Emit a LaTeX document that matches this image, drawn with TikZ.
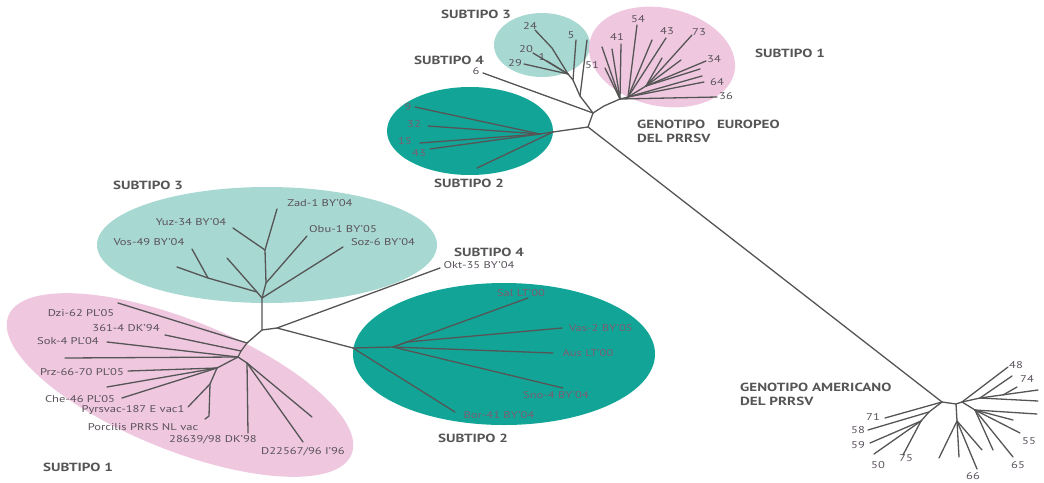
\documentclass[tikz,border=0pt]{standalone}
\usepackage{fontspec}
\setmainfont{PT Sans}[FakeStretch=1.28]
\definecolor{lteal}{HTML}{A8D8D2}
\definecolor{dteal}{HTML}{12A597}
\definecolor{lpink}{HTML}{EFC8E0}
\definecolor{linec}{HTML}{555555}
\definecolor{labc}{HTML}{5A515C}
\definecolor{labt}{HTML}{7D5C70}
\definecolor{subc}{HTML}{555555}
\tikzset{
  br/.style={draw=linec, line width=1.3pt, line cap=round, line join=round},
  lbl/.style={font=\fontsize{9.8}{11}\selectfont, text=labc, inner sep=0pt},
  lblt/.style={font=\fontsize{9.8}{11}\selectfont, text=labt, inner sep=0pt},
  sub/.style={font=\bfseries\fontsize{11.8}{13}\selectfont, text=subc, inner sep=0pt},
}
\begin{document}
\begin{tikzpicture}[x=1pt,y=-1pt]
\useasboundingbox (0,0) rectangle (1044,482);
% ---------- ellipses ----------
\fill[lteal] (542,45) ellipse [x radius=48, y radius=32];
\fill[lpink, rotate around={-12:(662,57)}] (662,57) ellipse [x radius=74, y radius=49];
\fill[dteal] (470,131) ellipse [x radius=83, y radius=44];
\fill[lteal] (267,245) ellipse [x radius=170, y radius=58];
\fill[lpink, rotate around={-22:(180,385)}] (180,385) ellipse [x radius=185, y radius=65];
\fill[dteal] (504,354) ellipse [x radius=151, y radius=71];

% ---------- European small tree ----------
\coordinate (eA) at (593,113);
\coordinate (eB) at (604,106);
\coordinate (eC) at (588,127);
\coordinate (ph) at (620,99);
\coordinate (ph2) at (628,97);
\coordinate (ph3) at (646,86);
\coordinate (t2h) at (553,132);
\coordinate (t2i) at (540,134);
\coordinate (s3a) at (580,96);
\coordinate (s3b) at (573,80);
\coordinate (s3c) at (568,74);
\coordinate (s3d) at (552,48);
\coordinate (aA) at (942,402);

\draw[br] (eA) -- (eB) -- (ph);
\draw[br] (eA) -- (eC) -- (t2h);
\draw[br] (eC) -- (aA);
\draw[br] (eA) -- (s3a) -- (s3b) -- (s3c);

% subtype 3 (top)
\node[lbl] (n24) at (530,26) {24};
\node[lbl] (n5) at (571,35) {5};
\node[lbl] (n20) at (526,49) {20};
\node[lbl] (n1) at (542,57) {1};
\node[lbl] (n29) at (515,63) {29};
\coordinate (t24) at (535,30);
\coordinate (t5) at (576,40);
\coordinate (t20) at (533,53);
\coordinate (t1) at (547,61);
\coordinate (t29) at (524,64);
\coordinate (tx1) at (587,40);
\draw[br] (t24) -- (s3d) -- (s3c);
\draw[br] (s3b) -- (t5);
\draw[br] (s3a) -- (tx1);
\draw[br] (t20) -- (s3c);
\draw[br] (t1) -- (s3c);
\draw[br] (t29) -- (s3c);

% subtype 4 (top)
\node[lbl] (n6) at (476,71) {6};
\coordinate (t6) at (483,73);
\draw[br] (t6) -- (eA);

% subtype 2 (top)
\node[lblt] (n9) at (408,107) {9};
\node[lblt] (n32) at (414,124) {32};
\node[lblt] (n15) at (405,141) {15};
\node[lblt] (n43b) at (419,153) {43};
\coordinate (t9) at (415,107);
\coordinate (t32) at (428,126);
\coordinate (t15) at (420,143);
\coordinate (t43b) at (430,149);
\coordinate (tlong) at (477,168);
\draw[br] (t2h) -- (t2i);
\foreach \t in {t9,t32,t15,t43b} \draw[br] (t2i) -- (\t);
\draw[br] (t2h) -- (tlong);

% subtype 1 (top)
\node[lbl] (n54) at (638,19) {54};
\node[lbl] (n41) at (617,37) {41};
\node[lbl] (n43) at (667,31) {43};
\node[lbl] (n73) at (699,32) {73};
\node[lbl] (n34) at (714,59) {34};
\node[lbl] (n64) at (717,82) {64};
\node[lbl] (n36) at (726,96) {36};
\node[lbl] (n51) at (592,65) {51};
\draw[br] (ph) -- (ph2) -- (ph3);
\draw[br] (ph) -- (605,68);
\draw[br] (ph) -- (602,47);
\draw[br] (ph) -- (612,49);
\draw[br] (ph) -- (621,44);
\draw[br] (ph2) -- (637,25);
\draw[br] (ph2) -- (652,40);
\draw[br] (ph2) -- (666,38);
\draw[br] (ph3) -- (662,58);
\draw[br] (ph3) -- (692,35);
\draw[br] (ph3) -- (681,60);
\draw[br] (ph3) -- (706,61);
\draw[br] (ph3) -- (700,69);
\draw[br] (ph2) -- (702,76);
\draw[br] (ph2) -- (704,82);
\draw[br] (ph) -- (717,97);

% labels top
\node[sub] (s3top) at (476,14) {SUBTIPO 3};
\node[sub] (s4top) at (449,60) {SUBTIPO 4};
\node[sub] (s2top) at (469,183) {SUBTIPO 2};
\node[sub] (s1top) at (790,53) {SUBTIPO 1};
\node[sub, anchor=north west, align=left] (geu) at (637,120) {GENOTIPO\quad EUROPEO\\[1pt]DEL PRRSV};

% ---------- American ----------
\coordinate (aB) at (956,404);
\coordinate (aC) at (962,402);
\coordinate (aL) at (929,412);
\coordinate (aL2) at (921,421);
\coordinate (aD) at (957,421);
\coordinate (aE) at (980,398);
\coordinate (aG) at (975,410);
\draw[br] (aA) -- (aB) -- (aC);
\draw[br] (aA) -- (885,418);
\draw[br] (aA) -- (aL) -- (aL2);
\draw[br] (aL) -- (868,430);
\draw[br] (aL2) -- (870,443);
\draw[br] (aL2) -- (874,454);
\draw[br] (aL2) -- (903,455);
\draw[br] (aB) -- (aD);
\draw[br] (aD) -- (939,458);
\draw[br] (aD) -- (959,457);
\draw[br] (aD) -- (977,469);
\draw[br] (aD) -- (982,450);
\draw[br] (aC) -- (1008,367);
\draw[br] (aC) -- (aE);
\draw[br] (aE) -- (1012,376);
\draw[br] (1003,395) -- (1017,387);
\draw[br] (aE) -- (1038,390);
\draw[br] (aE) -- (1038,401);
\draw[br] (aC) -- (aG);
\draw[br] (aG) -- (1037,414);
\draw[br] (aG) -- (1013,420);
\draw[br] (aG) -- (1020,433);
\draw[br] (aG) -- (993,450);
\draw[br] (aG) -- (1013,457);
\node[lbl] (a48) at (1016,365) {48};
\node[lbl] (a74) at (1027,379) {74};
\node[lbl] (a55) at (1029,441) {55};
\node[lbl] (a65) at (1018,465) {65};
\node[lbl] (a66) at (973,476) {66};
\node[lbl] (a71) at (873,417) {71};
\node[lbl] (a58) at (858,430) {58};
\node[lbl] (a59) at (858,445) {59};
\node[lbl] (a50) at (878,465) {50};
\node[lbl] (a75) at (906,458) {75};
\node[sub, anchor=north west, align=left] (gam) at (740,383) {GENOTIPO AMERICANO\\[1pt]DEL PRRSV};

% ---------- Left big tree ----------
\coordinate (z3s) at (262,298);
\coordinate (z0) at (262,330);
\coordinate (z3a) at (266,283);
\coordinate (z3b) at (265,250);
\coordinate (z3c) at (257,292);
\coordinate (z3d) at (208,278);
\coordinate (zk) at (277,328);
\coordinate (h2) at (353,348);
\coordinate (h2a) at (393,347);
\coordinate (h2b) at (407,342);
\coordinate (p1) at (247,343);
\coordinate (p2) at (241,351);
\coordinate (p3) at (238,357);
\coordinate (p4) at (217,368);
\coordinate (p5) at (210,384);
\coordinate (p6) at (247,363);

% subtype 3
\draw[br] (z0) -- (z3s) -- (z3a) -- (z3b) -- (277,209);
\draw[br] (z3b) -- (233,228);
\draw[br] (z3a) -- (307,236);
\draw[br] (z3s) -- (343,247);
\draw[br] (z3s) -- (z3c) -- (z3d) -- (192,249);
\draw[br] (z3d) -- (177,267);
\draw[br] (z3c) -- (227,258);
\node[lbl] (lzad) at (320,203) {Zad-1 BY'04};
\node[lbl] (lyuz) at (191,222) {Yuz-34 BY'04};
\node[lbl] (lobu) at (343,229) {Obu-1 BY'05};
\node[lbl] (lvos) at (149,242) {Vos-49 BY'04};
\node[lbl] (lsoz) at (383,242) {Soz-6 BY'04};

% subtype 4 + 2
\draw[br] (z0) -- (zk) -- (440,268);
\draw[br] (zk) -- (h2);
\draw[br] (h2) -- (455,412);
\draw[br] (h2) -- (h2a);
\draw[br] (h2a) -- (528,298);
\draw[br] (h2a) -- (553,353);
\draw[br] (h2a) -- (563,388);
\draw[br] (h2a) -- (h2b) -- (562,328);
\node[lbl] (lokt) at (479,265) {Okt-35 BY'04};
\node[lblt] (lsal) at (521,293) {Sal LT'00};
\node[lblt] (lvas) at (601,328) {Vas-2 BY'05};
\node[lblt] (laus) at (588,353) {Aus LT'00};
\node[lblt] (lsno) at (556,395) {Sno-4 BY'04};
\node[lblt] (lbor) at (499,415) {Bor-41 BY'04};

% subtype 1
\draw[br] (z0) -- (p1) -- (118,303);
\draw[br] (p1) -- (p2) -- (165,335);
\draw[br] (p2) -- (p3) -- (107,342);
\draw[br] (p3) -- (65,358);
\draw[br] (p3) -- (p4) -- (128,371);
\draw[br] (p4) -- (107,387);
\draw[br] (p4) -- (122,398);
\draw[br] (p4) -- (p5) -- (188,407);
\draw[br] (p5) -- (209,416) -- (205,419);
\draw[br] (p3) -- (p6) -- (248,433);
\draw[br] (p6) -- (303,442);
\draw[br] (p6) -- (312,417);
\node[lbl] (ldzi) at (81,313) {Dzi-62 PL'05};
\node[lbl] (l361) at (126,328) {361-4 DK'94};
\node[lbl] (lsok) at (68,341) {Sok-4 PL'04};
\node[lbl] (lprz) at (82,372) {Prz-66-70 PL'05};
\node[lbl] (lche) at (80,399) {Che-46 PL'05};
\node[lbl] (lpyr) at (133,410) {Pyrsvac-187 E vac1};
\node[lbl] (lpor) at (143,427) {Porcilis PRRS NL vac};
\node[lbl] (l286) at (213,440) {28639/98 DK'98};
\node[lbl] (ld22) at (303,452) {D22567/96 I'96};

\node[sub] (s3l) at (148,185) {SUBTIPO 3};
\node[sub] (s4l) at (489,252) {SUBTIPO 4};
\node[sub] (s2l) at (473,438) {SUBTIPO 2};
\node[sub] (s1l) at (78,467) {SUBTIPO 1};
\end{tikzpicture}
\end{document}
